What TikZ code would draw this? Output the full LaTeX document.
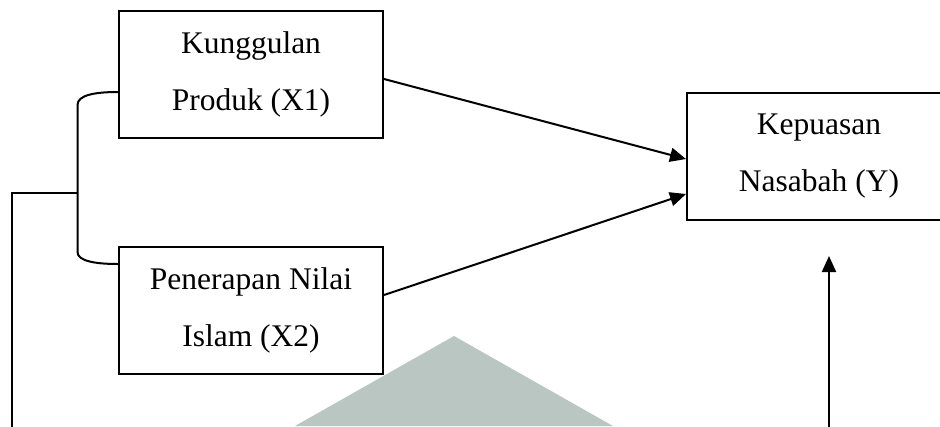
\documentclass[tikz,border=0pt]{standalone}
\usepackage{fontspec}
\setmainfont{Liberation Serif}
\usetikzlibrary{arrows.meta}
\begin{document}
\begin{tikzpicture}[x=1pt,y=-1pt,
  varbox/.style={draw=black,line width=2pt,minimum width=264pt,minimum height=127pt,inner sep=0pt,align=center,font=\fontsize{31.5}{57}\selectfont},
  conn/.style={line width=2pt,draw=black},
  arr/.style={conn,-{Triangle[length=16pt,width=14pt]}}]
\useasboundingbox (0,0) rectangle (940,426);
\clip (0,0) rectangle (940,426);
% watermark triangle
\fill[fill={rgb,255:red,186;green,198;blue,193}] (295,426) -- (454,336) -- (613,426) -- cycle;
% boxes
\node[varbox] (x1) at (251,74.5) {Kunggulan\\Produk (X1)};
\node[varbox] (x2) at (251,310.5) {Penerapan Nilai\\Islam (X2)};
\node[varbox] (y) at (819,156) {Kepuasan\\Nasabah (Y)};
% anchor points
\coordinate (b1) at (x1.west |- 0,92);
\coordinate (b2) at (x2.west |- 0,264);
\coordinate (bt) at (77.5,105);
\coordinate (bb) at (77.5,252);
\coordinate (bm) at (77.5,193);
\coordinate (lc) at (12,193);
\coordinate (lb) at (12,430);
\coordinate (rb) at (829,430);
\coordinate (rt) at (829,256);
\coordinate (a1s) at (x1.east |- 0,79);
\coordinate (a1e) at (y.west |- 0,159);
\coordinate (a2s) at (x2.east |- 0,295);
\coordinate (a2e) at (y.west |- 0,194);
% brace
\draw[conn] (b1) .. controls (95,92) and (77.5,95) .. (bt) -- (bb) .. controls (77.5,261) and (95,264) .. (b2);
\draw[conn] (bm) -- (lc) -- (lb);
% arrows
\draw[arr] (a1s) -- (a1e);
\draw[arr] (a2s) -- (a2e);
\draw[arr] (rb) -- (rt);
\end{tikzpicture}
\end{document}
